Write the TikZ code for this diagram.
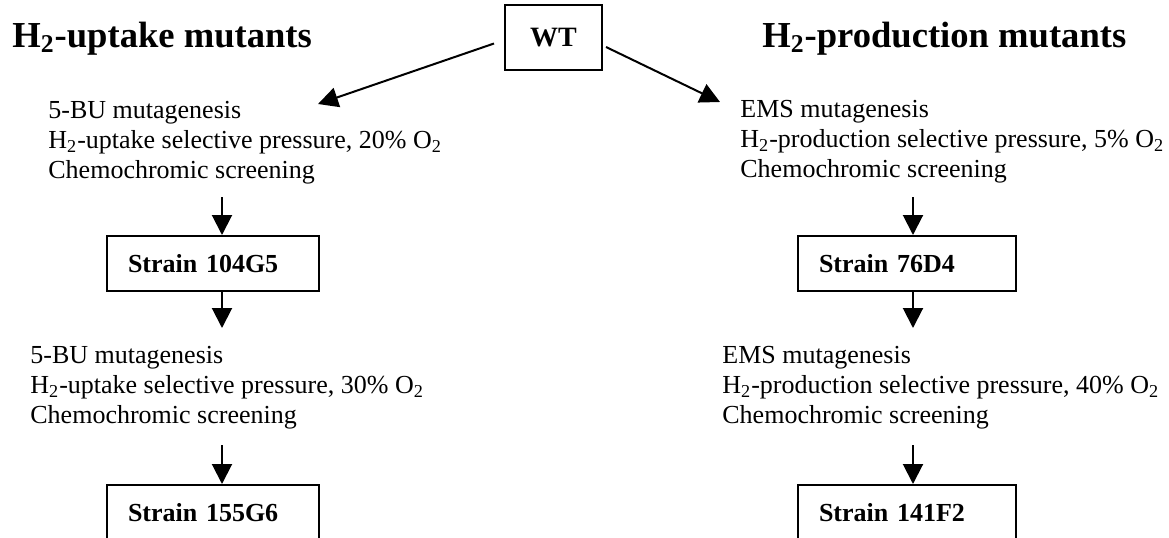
\documentclass[tikz,border=0pt]{standalone}
\usepackage{fontspec}
\setmainfont{Liberation Serif}
\usetikzlibrary{arrows.meta}

\tikzset{
  heading/.style={anchor=base west,inner sep=0pt,font=\fontsize{18.3}{22}\selectfont\bfseries},
  steptext/.style={anchor=north west,align=left,inner sep=0pt,font=\fontsize{13}{15}\selectfont},
  strainbox/.style={draw,line width=1pt,anchor=north west,minimum height=27.5pt,inner xsep=10.5pt,
    align=left,font=\fontsize{13}{15}\selectfont\bfseries},
  flow/.style={line width=1pt,-{Triangle[length=10pt,width=10pt]}},
}

\begin{document}
\begin{tikzpicture}[x=0.5pt,y=-0.5pt]
  \useasboundingbox (0,0) rectangle (1169,537);
  \clip (0,0) rectangle (1169,537);

  % Titles and wild type
  \node[heading] (htup) at (12,47) {H\textsubscript{2}-uptake mutants};
  \node[heading] (htpr) at (762,47) {H\textsubscript{2}-production mutants};
  \node[draw,line width=1pt,minimum width=48.5pt,minimum height=32.5pt,inner sep=0pt,
    font=\fontsize{14}{16}\selectfont\bfseries] (wt) at (553.5,37.5) {WT};

  % H2-uptake branch
  \node[steptext] (up1) at (48,101) {5-BU mutagenesis\\H\textsubscript{2}-uptake selective pressure, 20\% O\textsubscript{2}\\Chemochromic screening};
  \node[strainbox,text width=85pt] (s104) at (106,235) {Strain 104G5};
  \node[steptext] (up2) at (30,346) {5-BU mutagenesis\\H\textsubscript{2}-uptake selective pressure, 30\% O\textsubscript{2}\\Chemochromic screening};
  \node[strainbox,text width=85pt] (s155) at (106,484) {Strain 155G6};

  % H2-production branch
  \node[steptext] (pr1) at (740,100) {EMS mutagenesis\\H\textsubscript{2}-production selective pressure, 5\% O\textsubscript{2}\\Chemochromic screening};
  \node[strainbox,text width=88pt] (s76) at (797,235) {Strain 76D4};
  \node[steptext] (pr2) at (722,346) {EMS mutagenesis\\H\textsubscript{2}-production selective pressure, 40\% O\textsubscript{2}\\Chemochromic screening};
  \node[strainbox,text width=88pt] (s141) at (797,484) {Strain 141F2};

  % Arrow ends
  \coordinate (tl) at (318,104);
  \coordinate (tr) at (720,102);
  \coordinate (ua) at (222,197);
  \coordinate (ub) at (222,328);
  \coordinate (uc) at (222,445);
  \coordinate (pa) at (913,197);
  \coordinate (pb) at (913,328);
  \coordinate (pc) at (913,445);

  % Arrows
  \draw[flow] ([xshift=-5pt,yshift=-3pt]wt.west) -- (tl);
  \draw[flow] ([xshift=1.5pt,yshift=-4.75pt]wt.east) -- (tr);
  \draw[flow] (ua) -- (ua |- s104.north);
  \draw[flow] (s104.south -| ub) -- (ub);
  \draw[flow] (uc) -- (uc |- s155.north);
  \draw[flow] (pa) -- (pa |- s76.north);
  \draw[flow] (s76.south -| pb) -- (pb);
  \draw[flow] (pc) -- (pc |- s141.north);
\end{tikzpicture}
\end{document}
